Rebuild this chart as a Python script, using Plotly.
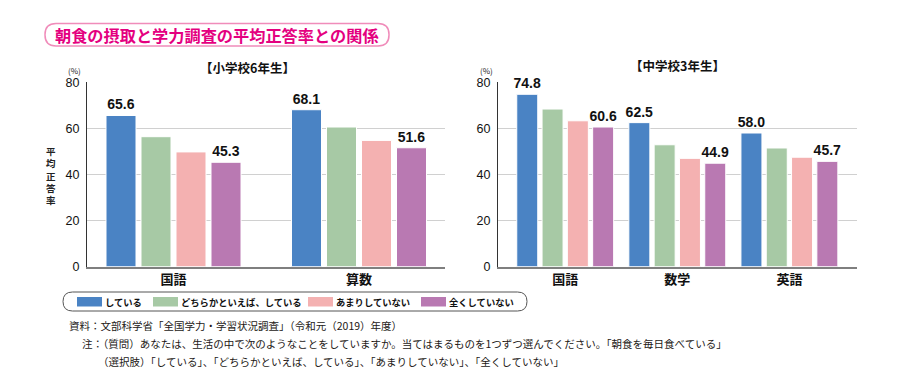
import plotly.graph_objects as go

W, H = 897, 377          # browser window
OFF = 8                  # default page (body) margin of the HTML page
FW, FH = W - OFF, H - OFF

# ---- data ----
series_names = ["している", "どちらかといえば、している", "あまりしていない", "全くしていない"]
colors = ["#4a83c4", "#a7c9a5", "#f4b1b1", "#b979b2"]

elem_categories = ["国語", "算数"]
elem_values = [
    [65.6, 68.1],   # している
    [56.4, 60.6],   # どちらかといえば、している
    [49.8, 54.8],   # あまりしていない
    [45.3, 51.6],   # 全くしていない
]

jr_categories = ["国語", "数学", "英語"]
jr_values = [
    [74.8, 62.5, 58.0],
    [68.4, 52.9, 51.5],
    [63.3, 47.0, 47.5],
    [60.6, 44.9, 45.7],
]
labeled_series = [0, 3]
y_ticks = [0, 20, 40, 60, 80]

title_text = "朝食の摂取と学力調査の平均正答率との関係"
sub_left = "【小学校6年生】"
sub_right = "【中学校3年生】"
y_title = "平均正答率"
notes = [
    "資料：文部科学省「全国学力・学習状況調査」（令和元（2019）年度）",
    "注：（質問）あなたは、生活の中で次のようなことをしていますか。当てはまるものを1つずつ選んでください。「朝食を毎日食べている」",
    "（選択肢）「している」、「どちらかといえば、している」、「あまりしていない」、「全くしていない」",
]

JP = "Noto Sans CJK JP"
NUM = "Liberation Sans, Arial, sans-serif"
INK = "#231815"


def px(x):
    return (x - OFF) / FW


def py(y):
    return 1 - (y - OFF) / FH


fig = go.Figure()

# geometry (window pixels)
left_dom = (87, 445)
right_dom = (498, 857)
y_bot, y_top = 266.7, 82.3

l_scale = 185.5
l_bw, l_pitch = 30, 35
l_start = -(3 * l_pitch + l_bw) / 2
r_scale = 112.1
r_bw, r_pitch = 21, 25.3
r_start = -(3 * r_pitch + r_bw) / 2

label_font = dict(family=NUM, size=14, color="#111", weight="bold")

for i, name in enumerate(series_names):
    fig.add_trace(go.Bar(
        x=list(range(len(elem_categories))), y=elem_values[i], name=name,
        marker=dict(color=colors[i], line=dict(color="white", width=1)),
        width=l_bw / l_scale, offset=(l_start + i * l_pitch) / l_scale,
        text=[f"{v:.1f}" for v in elem_values[i]] if i in labeled_series else None,
        textposition="outside", cliponaxis=False, constraintext="none", textfont=label_font,
        xaxis="x", yaxis="y", showlegend=False,
    ))
for i, name in enumerate(series_names):
    fig.add_trace(go.Bar(
        x=list(range(len(jr_categories))), y=jr_values[i], name=name,
        marker=dict(color=colors[i], line=dict(color="white", width=1)),
        width=r_bw / r_scale, offset=(r_start + i * r_pitch) / r_scale,
        text=[f"{v:.1f}" for v in jr_values[i]] if i in labeled_series else None,
        textposition="outside", cliponaxis=False, constraintext="none", textfont=label_font,
        xaxis="x2", yaxis="y2", showlegend=False,
    ))

l_left = -(173.5 - left_dom[0]) / l_scale
l_right = l_left + (left_dom[1] - left_dom[0]) / l_scale
r_left = -(565.2 - right_dom[0]) / r_scale
r_right = r_left + (right_dom[1] - right_dom[0]) / r_scale

xcommon = dict(showgrid=False, zeroline=False, showline=True, linecolor="#7f7f7f", linewidth=2,
               ticks="", automargin=False,
               tickfont=dict(family=JP, size=13, color="#111", weight="bold"))
ycommon = dict(range=[0, 80], tickvals=y_ticks, showgrid=True, gridcolor="#d0d0d0", gridwidth=1,
               zeroline=False, showline=True, linecolor="#333", linewidth=1, ticks="",
               automargin=False, tickfont=dict(family=NUM, size=12.5, color="#111"),
               ticklabelstandoff=4)

fig.update_layout(
    width=FW, height=FH, margin=dict(l=0, r=0, t=0, b=0, pad=0, autoexpand=False),
    paper_bgcolor="white", plot_bgcolor="white",
    barmode="overlay", showlegend=False,
    xaxis=dict(domain=[px(left_dom[0]), px(left_dom[1])], range=[l_left, l_right],
               tickvals=list(range(len(elem_categories))), ticktext=elem_categories, anchor="y", **xcommon),
    yaxis=dict(domain=[py(y_bot), py(y_top)], anchor="x", **ycommon),
    xaxis2=dict(domain=[px(right_dom[0]), px(right_dom[1])], range=[r_left, r_right],
                tickvals=list(range(len(jr_categories))), ticktext=jr_categories, anchor="y2", **xcommon),
    yaxis2=dict(domain=[py(y_bot), py(y_top)], anchor="x2", **ycommon),
)


def rounded(x0, y0, x1, y1, r):
    rx, ry = r / FW, r / FH
    X0, X1 = px(x0), px(x1)
    Y0, Y1 = py(y1), py(y0)
    return (f"M{X0 + rx},{Y1} L{X1 - rx},{Y1} Q{X1},{Y1} {X1},{Y1 - ry} "
            f"L{X1},{Y0 + ry} Q{X1},{Y0} {X1 - rx},{Y0} L{X0 + rx},{Y0} "
            f"Q{X0},{Y0} {X0},{Y0 + ry} L{X0},{Y1 - ry} Q{X0},{Y1} {X0 + rx},{Y1} Z")


fig.add_shape(type="path", xref="paper", yref="paper", path=rounded(45, 23.5, 389, 46, 11),
              line=dict(color="#f08cba", width=1.5))
fig.add_shape(type="path", xref="paper", yref="paper", path=rounded(63, 292, 527, 311, 9.5),
              line=dict(color="#555", width=1))

ann = []
# legend (key) entries
legend_swatch_x = [77, 153, 308, 421]
for name, col, sx in zip(series_names, colors, legend_swatch_x):
    fig.add_shape(type="rect", xref="paper", yref="paper",
                  x0=px(sx), x1=px(sx + 25), y0=py(306.5), y1=py(297),
                  fillcolor=col, line=dict(width=0))
    ann.append(dict(text=f"<b>{name}</b>", x=px(sx + 26), y=py(302), xref="paper", yref="paper",
                    showarrow=False, xanchor="left", yanchor="middle",
                    font=dict(family=JP, size=9.3, color="#111")))

ann.append(dict(text=f"<b>{title_text}</b>", x=px(216.5), y=py(35), xref="paper", yref="paper",
                showarrow=False, xanchor="center", yanchor="middle",
                font=dict(family=JP, size=16.2, color="#e4007f")))
ann.append(dict(text=f"<b>{sub_left}</b>", x=px(247), y=py(67.5), xref="paper", yref="paper",
                showarrow=False, xanchor="center", yanchor="middle",
                font=dict(family=JP, size=12.5, color="#111")))
ann.append(dict(text=f"<b>{sub_right}</b>", x=px(677), y=py(66), xref="paper", yref="paper",
                showarrow=False, xanchor="center", yanchor="middle",
                font=dict(family=JP, size=12.5, color="#111")))
for xx in (74, 486):
    ann.append(dict(text="(%)", x=px(xx), y=py(70), xref="paper", yref="paper",
                    showarrow=False, xanchor="center", yanchor="middle",
                    font=dict(family=JP, size=8, color="#222")))
ann.append(dict(text="<br>".join(f"<b>{c}</b>" for c in y_title), x=px(51), y=py(175),
                xref="paper", yref="paper", showarrow=False, xanchor="center", yanchor="middle",
                font=dict(family=JP, size=9.5, color="#222")))
for (xx, yy), t in zip([(67, 325), (80, 343), (96, 361)], notes):
    ann.append(dict(text=t, x=px(xx), y=py(yy), xref="paper", yref="paper",
                    showarrow=False, xanchor="left", yanchor="middle",
                    font=dict(family=JP, size=10.5, color=INK)))
fig.update_layout(annotations=ann)

fig.write_html("out.html")
